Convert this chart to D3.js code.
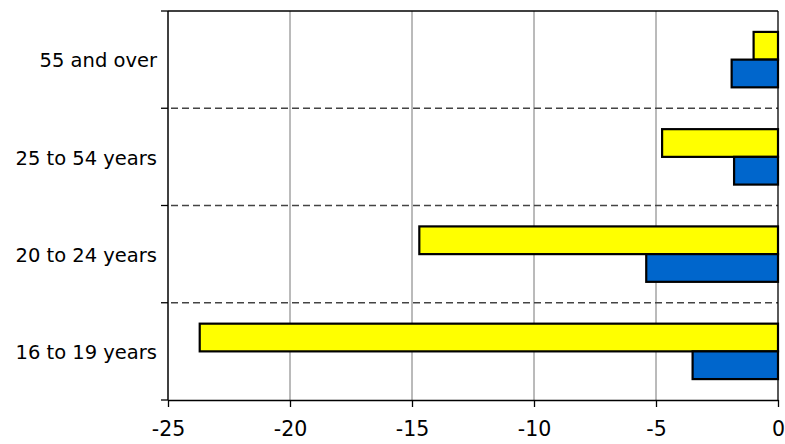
<!DOCTYPE html>
<html>
<head>
<meta charset="utf-8">
<script src="https://cdn.jsdelivr.net/npm/d3@7"></script>
<style>
  body { margin: 0; background: #fff; }
  svg { display: block; }
</style>
</head>
<body>
<svg id="chart" width="785" height="444"></svg>
<script>
// age groups, top to bottom
var categories = ["55 and over", "25 to 54 years", "20 to 24 years", "16 to 19 years"];
var yellowValues = [-1.0, -4.75, -14.7, -23.7];
var blueValues = [-1.9, -1.8, -5.4, -3.5];
var xTicks = [-25, -20, -15, -10, -5, 0];

var margin = {top: 11, right: 7, bottom: 44, left: 168};
var width = 785 - margin.left - margin.right;
var height = 444 - margin.top - margin.bottom;

var svg = d3.select("#chart");
var g = svg.append("g").attr("transform", "translate(" + margin.left + "," + margin.top + ")");

var x = d3.scaleLinear().domain([-25, 0]).range([0, width]);
var y = d3.scaleBand().domain(categories).range([0, height]);

// vertical grid lines
g.selectAll(".grid").data(xTicks.slice(1, -1)).enter().append("line")
  .attr("x1", function(d){ return x(d); })
  .attr("x2", function(d){ return x(d); })
  .attr("y1", 0).attr("y2", height)
  .attr("stroke", "#777").attr("stroke-width", 1);

// dashed separators between categories
g.selectAll(".sep").data(categories.slice(1)).enter().append("line")
  .attr("x1", 3).attr("x2", width)
  .attr("y1", function(d){ return y(d); })
  .attr("y2", function(d){ return y(d); })
  .attr("stroke", "#444").attr("stroke-width", 1.3)
  .attr("stroke-dasharray", "7,4");

// bars
var barH = y.bandwidth() * 0.285;
var groupTop = function(c){ return y(c) + y.bandwidth() / 2 - barH; };

g.selectAll(".yellow").data(categories).enter().append("rect")
  .attr("x", function(d, i){ return x(yellowValues[i]); })
  .attr("width", function(d, i){ return x(0) - x(yellowValues[i]); })
  .attr("y", function(d){ return groupTop(d); })
  .attr("height", barH)
  .attr("fill", "#ffff00").attr("stroke", "#000").attr("stroke-width", 2.2);

g.selectAll(".blue").data(categories).enter().append("rect")
  .attr("x", function(d, i){ return x(blueValues[i]); })
  .attr("width", function(d, i){ return x(0) - x(blueValues[i]); })
  .attr("y", function(d){ return groupTop(d) + barH; })
  .attr("height", barH)
  .attr("fill", "#0066cc").attr("stroke", "#000").attr("stroke-width", 2.2);

// frame lines (top, right)
g.append("line").attr("x1", 0).attr("x2", width).attr("y1", 0).attr("y2", 0)
  .attr("stroke", "#000").attr("stroke-width", 1.3);
g.append("line").attr("x1", width).attr("x2", width).attr("y1", 0).attr("y2", height)
  .attr("stroke", "#000").attr("stroke-width", 1.3);

// x axis
var xAxis = g.append("g").attr("transform", "translate(0," + height + ")")
  .call(d3.axisBottom(x).tickValues(xTicks).tickFormat(function(d){ return String(d); })
    .tickSize(7).tickPadding(14).tickSizeOuter(0));
xAxis.select(".domain").attr("stroke-width", 1.5);
xAxis.selectAll("line").attr("stroke-width", 1.3);
xAxis.selectAll("text").attr("font-family", "'DejaVu Sans', sans-serif")
  .attr("font-size", 20.5).attr("fill", "#000");

// y axis: ticks at band boundaries
var bounds = categories.map(function(c){ return y(c); }).concat([height]);
g.append("line").attr("x1", 0).attr("x2", 0).attr("y1", 0).attr("y2", height)
  .attr("stroke", "#000").attr("stroke-width", 1.5);
g.selectAll(".ytick").data(bounds).enter().append("line")
  .attr("x1", -7).attr("x2", 0)
  .attr("y1", function(d){ return d; }).attr("y2", function(d){ return d; })
  .attr("stroke", "#000").attr("stroke-width", 1.3);
g.selectAll(".ylabel").data(categories).enter().append("text")
  .text(function(d){ return d; })
  .attr("x", -11)
  .attr("y", function(d){ return y(d) + y.bandwidth() / 2; })
  .attr("dy", "0.4em")
  .attr("text-anchor", "end")
  .attr("font-family", "'DejaVu Sans', sans-serif")
  .attr("font-size", 19.5)
  .attr("fill", "#000");
</script>
</body>
</html>
